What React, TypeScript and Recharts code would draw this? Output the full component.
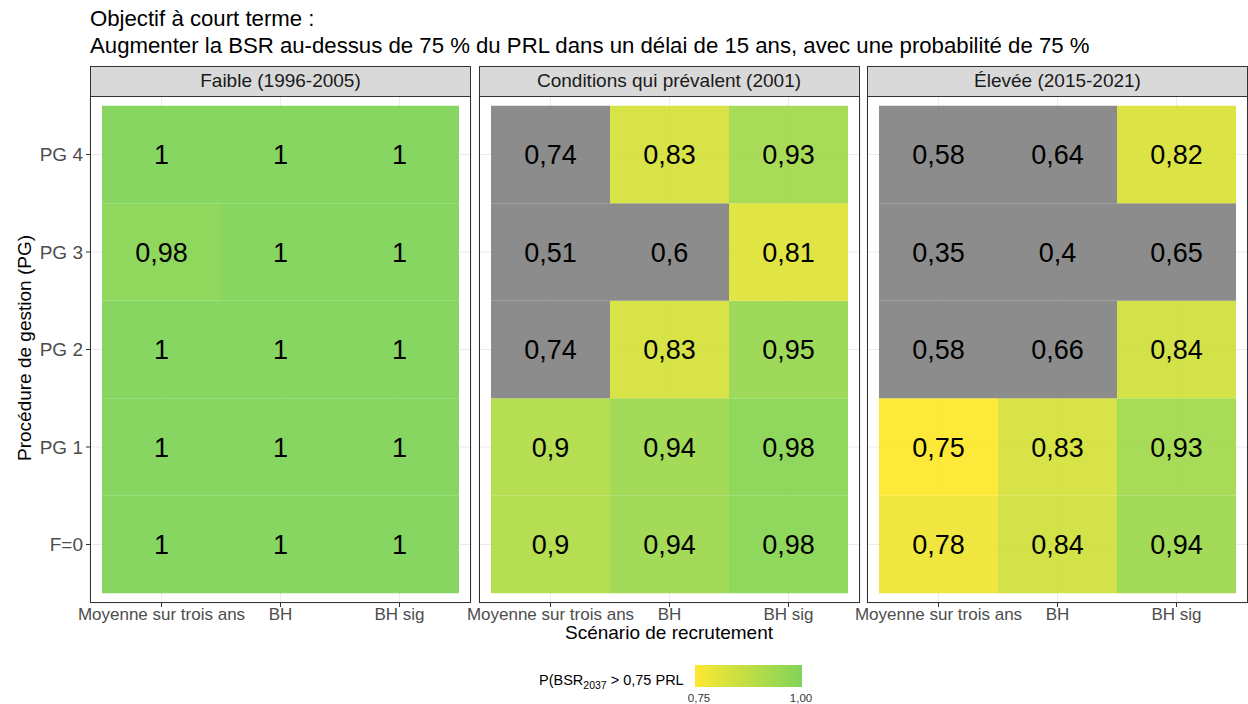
import { BarChart, Bar, XAxis, YAxis, CartesianGrid, Cell, LabelList } from "recharts";

const scenarios = ["Moyenne sur trois ans", "BH", "BH sig"];
const procedures = ["F=0", "PG 1", "PG 2", "PG 3", "PG 4"];
const panelTitles = ["Faible (1996-2005)", "Conditions qui prévalent (2001)", "Élevée (2015-2021)"];

// rows in the same order as procedures, columns as scenarios
const faible = [
  [1, 1, 1],
  [1, 1, 1],
  [1, 1, 1],
  [0.98, 1, 1],
  [1, 1, 1],
];
const prevalent = [
  [0.9, 0.94, 0.98],
  [0.9, 0.94, 0.98],
  [0.74, 0.83, 0.95],
  [0.51, 0.6, 0.81],
  [0.74, 0.83, 0.93],
];
const elevee = [
  [0.78, 0.84, 0.94],
  [0.75, 0.83, 0.93],
  [0.58, 0.66, 0.84],
  [0.35, 0.4, 0.65],
  [0.58, 0.64, 0.82],
];
const panelValues = [faible, prevalent, elevee];

const TILE = 1; // each tile is one unit tall in the stack
const LOW = [253, 231, 37];
const HIGH = [122, 209, 81];
const FONT = "'Liberation Sans', Arial, sans-serif";

function tileColor(v: number) {
  if (v < 0.75) return "#7f7f7f";
  const t = Math.min(1, (v - 0.75) / 0.25);
  const c = LOW.map((l, i) => Math.round(l + (HIGH[i] - l) * t));
  return `rgb(${c[0]},${c[1]},${c[2]})`;
}

const fmt = (v: number) => String(v).replace(".", ",");

const PANEL_W = 381;
const PANEL_X = [90, 478.5, 867];
const PLOT_TOP = 96;
const PLOT_H = 507;
const SIDE = 50; // room for tick labels that spill past the panel

function Panel({ idx }: { idx: number }) {
  const vals = panelValues[idx];
  const data = scenarios.map((s, ci) => {
    const d: any = { cat: s };
    procedures.forEach((_, ri) => {
      d["r" + ri] = TILE;
      d["v" + ri] = fmt(vals[ri][ci]);
    });
    return d;
  });
  const first = idx === 0;
  const yw = first ? 90 : 0;
  const ml = first ? 0 : SIDE;
  const offset = yw + ml;
  return (
    <div style={{ position: "absolute", left: PANEL_X[idx] - offset, top: PLOT_TOP }}>
      <BarChart
        width={PANEL_W + offset + SIDE}
        height={PLOT_H + 32}
        data={data}
        margin={{ top: 0, right: SIDE, bottom: 0, left: ml }}
        barCategoryGap={0}
      >
        <CartesianGrid stroke="#ebebeb" strokeWidth={1} />
        <XAxis
          dataKey="cat"
          type="category"
          padding={{ left: 12, right: 12 }}
          height={32}
          axisLine={false}
          tickSize={4}
          tickMargin={1}
          tickLine={{ stroke: "#333333" }}
          tick={{ fill: "#4d4d4d", fontSize: 17, fontFamily: FONT }}
          interval={0}
        />
        <YAxis
          type="number"
          domain={[-0.1, 5.1]}
          ticks={[0.5, 1.5, 2.5, 3.5, 4.5]}
          tickFormatter={(v: number) => procedures[Math.floor(v)]}
          width={yw}
          hide={!first}
          axisLine={false}
          tickSize={4}
          tickMargin={3}
          tickLine={{ stroke: "#333333" }}
          tick={{ fill: "#4d4d4d", fontSize: 19, fontFamily: FONT }}
          allowDataOverflow
        />
        {procedures.map((_, ri) => (
          <Bar key={ri} dataKey={"r" + ri} stackId="a" isAnimationActive={false}>
            {scenarios.map((__, ci) => (
              <Cell key={ci} fill={tileColor(vals[ri][ci])} fillOpacity={0.9} />
            ))}
            <LabelList
              dataKey={"v" + ri}
              position="center"
              fill="#000000"
              style={{ fontSize: 27, fontFamily: FONT }}
            />
          </Bar>
        ))}
      </BarChart>
      <div
        style={{
          position: "absolute",
          left: offset,
          top: 0,
          width: PANEL_W,
          height: PLOT_H,
          border: "1px solid #333333",
          boxSizing: "border-box",
          pointerEvents: "none",
        }}
      />
      <div
        style={{
          position: "absolute",
          left: offset,
          top: -30,
          width: PANEL_W,
          height: 31,
          background: "#d9d9d9",
          border: "1px solid #333333",
          boxSizing: "border-box",
          textAlign: "center",
          lineHeight: "28px",
          fontSize: 19,
          color: "#1a1a1a",
          fontFamily: FONT,
          whiteSpace: "nowrap",
        }}
      >
        {panelTitles[idx]}
      </div>
    </div>
  );
}

export default function App() {
  return (
    <div
      style={{
        position: "absolute",
        left: 0,
        top: 0,
        width: 1248,
        height: 704,
        background: "#ffffff",
        fontFamily: FONT,
        overflow: "hidden",
      }}
    >
      {/* TITLE */}
      <div style={{ position: "absolute", left: 90, top: 5, fontSize: 22.2, lineHeight: "27px", color: "#000", whiteSpace: "nowrap" }}>
        <div>Objectif à court terme :</div>
        <div>Augmenter la BSR au-dessus de 75 % du PRL dans un délai de 15 ans, avec une probabilité de 75 %</div>
      </div>

      {/* PANELS */}
      {panelTitles.map((_, i) => (
        <Panel key={i} idx={i} />
      ))}

      {/* AXIS TITLES */}
      <div
        style={{
          position: "absolute",
          left: 90,
          width: 1158,
          top: 622,
          textAlign: "center",
          fontSize: 19,
          lineHeight: "22px",
          color: "#000",
        }}
      >
        Scénario de recrutement
      </div>
      <div
        style={{
          position: "absolute",
          left: 25,
          top: 348,
          transform: "translate(-50%, -50%) rotate(-90deg)",
          whiteSpace: "nowrap",
          fontSize: 19,
          lineHeight: "22px",
          color: "#000",
        }}
      >
        Procédure de gestion (PG)
      </div>

      {/* LEGEND */}
      <div
        style={{
          position: "absolute",
          left: 539,
          top: 673,
          fontSize: 14.5,
          lineHeight: "15px",
          color: "#000",
          whiteSpace: "nowrap",
        }}
      >
        P(BSR
        <span style={{ fontSize: 10.5, position: "relative", top: 4 }}>2037</span> &gt; 0,75 PRL
      </div>
      <div
        style={{
          position: "absolute",
          left: 695,
          top: 665,
          width: 107,
          height: 22,
          background: `linear-gradient(to right, ${tileColor(0.75)}, ${tileColor(1)})`,
          opacity: 0.95,
        }}
      />
      <div style={{ position: "absolute", left: 681, width: 36, top: 692, fontSize: 11.5, lineHeight: "12px", textAlign: "center", color: "#333" }}>
        0,75
      </div>
      <div style={{ position: "absolute", left: 783, width: 36, top: 692, fontSize: 11.5, lineHeight: "12px", textAlign: "center", color: "#333" }}>
        1,00
      </div>
    </div>
  );
}
